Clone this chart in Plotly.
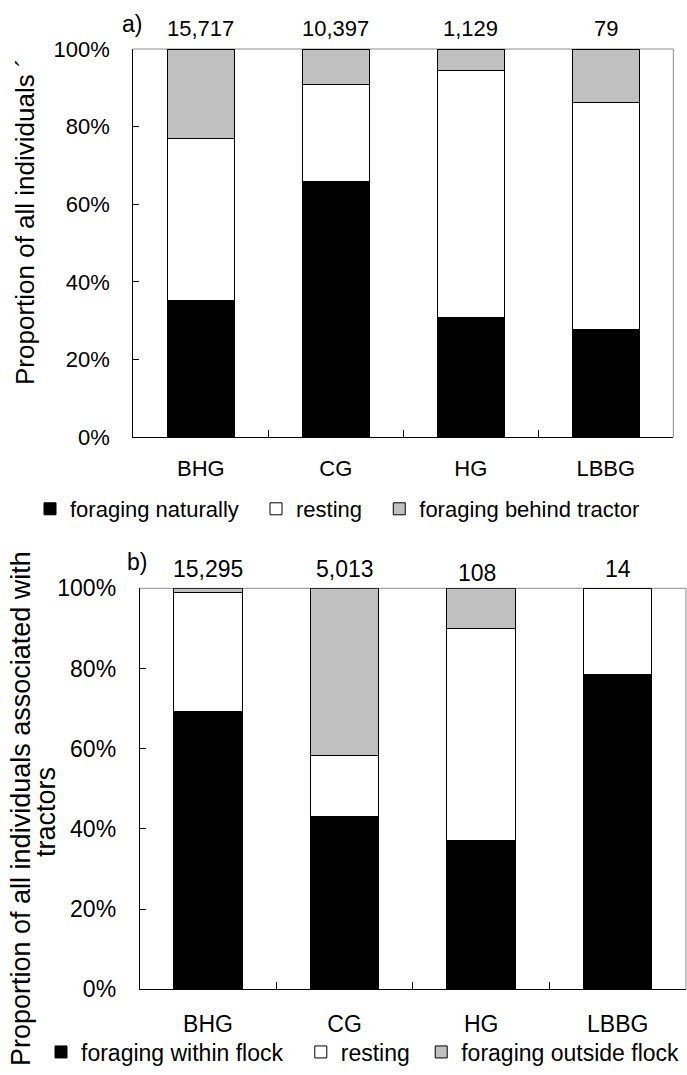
import plotly.graph_objects as go

# ---------------- data ----------------
species = ["BHG", "CG", "HG", "LBBG"]

# panel a) all individuals (percent)
a_foraging_naturally = [35.2, 65.9, 30.8, 27.8]
a_resting = [41.7, 25.0, 63.7, 58.5]
a_foraging_behind_tractor = [23.1, 9.1, 5.5, 13.7]
a_counts = [15717, 10397, 1129, 79]

# panel b) individuals associated with tractors (percent)
b_foraging_within_flock = [69.2, 43.1, 37.1, 78.6]
b_resting = [29.7, 15.2, 52.9, 21.4]
b_foraging_outside_flock = [1.1, 41.7, 10.0, 0.0]
b_counts = [15295, 5013, 108, 14]

y_ticks = [0, 20, 40, 60, 80, 100]
y_ticktext = [f"{v}%" for v in y_ticks]

# ---------------- style ----------------
W, H = 687, 1075
FONT = "Liberation Sans, Arial, Helvetica, sans-serif"
BLACK, WHITE, GRAY = "#000000", "#ffffff", "#c0c0c0"
BORDER = "#8c8c8c"
NB = "\u00a0"
# small manual offsets of count labels (pixels) as in the original
b_count_nudge = {"HG": (-4, -4)}


def px(x):
    return x / W


def py(y):
    return 1 - y / H


fig = go.Figure()

series_a = [
    ("foraging naturally", a_foraging_naturally, BLACK, NB * 2),
    ("resting", a_resting, WHITE, NB * 2),
    ("foraging behind tractor", a_foraging_behind_tractor, GRAY, ""),
]
series_b = [
    ("foraging within flock", b_foraging_within_flock, BLACK, NB * 2),
    ("resting", b_resting, WHITE, NB),
    ("foraging outside flock", b_foraging_outside_flock, GRAY, ""),
]

for name, vals, col, pad in series_a:
    fig.add_trace(go.Bar(
        x=species, y=vals, name=name + pad, width=0.5,
        marker=dict(color=col, line=dict(color="black", width=1)),
        xaxis="x", yaxis="y", legend="legend",
    ))
for name, vals, col, pad in series_b:
    fig.add_trace(go.Bar(
        x=species, y=vals, name=name + pad, width=0.5,
        marker=dict(color=col, line=dict(color="black", width=1)),
        xaxis="x2", yaxis="y2", legend="legend2",
    ))

xcommon = dict(
    type="category", categoryorder="array", categoryarray=species,
    range=[-0.5, 3.5], showline=True, linecolor="black", linewidth=1,
    ticks="inside", tickson="boundaries", ticklen=7, tickcolor="black",
    tickwidth=1, showgrid=False, zeroline=False, automargin=False,
)
ycommon = dict(
    range=[0, 100], tickvals=y_ticks, ticktext=y_ticktext,
    showline=True, linecolor="black", linewidth=1,
    ticks="inside", ticklen=6, tickcolor="black", tickwidth=1,
    showgrid=False, zeroline=False, ticklabelstandoff=18,
    automargin=False,
)

fig.update_layout(
    template="none",
    width=W, height=H, autosize=False,
    margin=dict(l=0, r=0, t=0, b=0, pad=0),
    paper_bgcolor="white", plot_bgcolor="white",
    barmode="stack", bargap=0.5,
    font=dict(family=FONT, size=22, color="black"),
    xaxis=dict(domain=[px(133.3), px(673.3)], anchor="y",
               tickfont=dict(size=22), ticklabelstandoff=11, **xcommon),
    yaxis=dict(domain=[py(437.3), py(49)], anchor="x",
               tickfont=dict(size=22), **ycommon),
    xaxis2=dict(domain=[px(139.7), px(686)], anchor="y2",
                tickfont=dict(size=23), ticklabelstandoff=14, **xcommon),
    yaxis2=dict(domain=[py(989.3), py(588.3)], anchor="x2",
                tickfont=dict(size=23), **ycommon),
    legend=dict(orientation="h", x=px(30), xanchor="left",
                y=py(509), yanchor="middle", font=dict(size=22),
                bgcolor="rgba(0,0,0,0)", traceorder="normal"),
    legend2=dict(orientation="h", x=px(41), xanchor="left",
                 y=py(1052), yanchor="middle", font=dict(size=23),
                 bgcolor="rgba(0,0,0,0)", traceorder="normal"),
)

# grey plot-area frame (top and right) like the original
for xr, yr in (("x domain", "y domain"), ("x2 domain", "y2 domain")):
    fig.add_shape(type="line", xref=xr, yref=yr, x0=0, x1=1, y0=1, y1=1,
                  line=dict(color=BORDER, width=1), layer="below")
    fig.add_shape(type="line", xref=xr, yref=yr, x0=1, x1=1, y0=0, y1=1,
                  line=dict(color=BORDER, width=1), layer="below")

# sample sizes above bars
for cat, n in zip(species, a_counts):
    fig.add_annotation(x=cat, y=100, xref="x", yref="y", text=f"{n:,}",
                       showarrow=False, yanchor="bottom", yshift=6,
                       font=dict(size=22))
for cat, n in zip(species, b_counts):
    dx, dy = b_count_nudge.get(cat, (0, 0))
    fig.add_annotation(x=cat, y=100, xref="x2", yref="y2", text=f"{n:,}",
                       showarrow=False, yanchor="bottom", yshift=4 + dy,
                       xshift=dx, font=dict(size=23))

# panel letters
fig.add_annotation(x=px(132), y=py(24), xref="paper", yref="paper",
                   xanchor="center", yanchor="middle",
                   text="a)", showarrow=False, font=dict(size=23))
fig.add_annotation(x=px(137), y=py(562), xref="paper", yref="paper",
                   xanchor="center", yanchor="middle",
                   text="b)", showarrow=False, font=dict(size=23))

# y-axis titles
fig.add_annotation(x=px(25), y=py(222), xref="paper", yref="paper",
                   xanchor="center", yanchor="middle",
                   text="Proportion of all individuals ´", textangle=-90,
                   showarrow=False, font=dict(size=26))
fig.add_annotation(x=px(21), y=py(809), xref="paper", yref="paper",
                   xanchor="center", yanchor="middle",
                   text="Proportion of all individuals associated with",
                   textangle=-90, showarrow=False, font=dict(size=27))
fig.add_annotation(x=px(46), y=py(812), xref="paper", yref="paper",
                   xanchor="center", yanchor="middle",
                   text="tractors", textangle=-90,
                   showarrow=False, font=dict(size=27))

fig.write_html("out.html",
               config={"displayModeBar": False},
               post_script="document.body.style.margin='0px';")
